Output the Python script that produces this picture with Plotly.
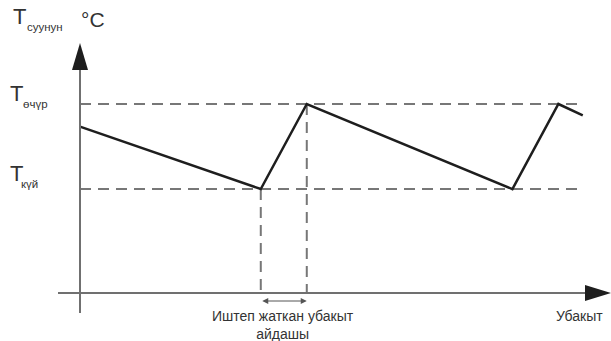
import plotly.graph_objects as go

# Water temperature over time (schematic): cool down, heater on, heat up, heater off
time = [0, 39.3, 49.3, 94.0, 104.0, 109.3]
temp = [88, 55, 100, 55, 100, 94]
t_on = 55      # T күй
t_off = 100    # T өчүр
t_end = 109.3  # end of dashed guides

W, H = 611, 341
X0, Y0 = 80, 293          # pixel position of the origin
XS, YS = 4.6, 1.89        # pixels per unit
xr = [-X0 / XS, (W - X0) / XS]
yr = [(Y0 - H) / YS, Y0 / YS]

AX = "#707070"
DASH = "#777777"
INK = "#1e1e1e"
TXT = "#333333"
FONT = "Liberation Sans, Arial, sans-serif"

fig = go.Figure()

# dashed guides
for lvl in (t_on, t_off):
    fig.add_trace(go.Scatter(x=[0, t_end], y=[lvl, lvl], mode="lines",
                             line=dict(color=DASH, width=2, dash="11px,7px"),
                             hoverinfo="skip", showlegend=False))
for i, lvl in ((1, t_on), (2, t_off)):
    fig.add_trace(go.Scatter(x=[time[i], time[i]], y=[lvl, 0], mode="lines",
                             line=dict(color=DASH, width=2, dash="11px,7px"),
                             hoverinfo="skip", showlegend=False))

# temperature curve
fig.add_trace(go.Scatter(x=time, y=temp, mode="lines",
                         line=dict(color=INK, width=2.5),
                         hovertemplate="%{x}<br>%{y} °C<extra></extra>",
                         showlegend=False))

# axes with arrow heads
shapes = [
    dict(type="line", x0=0, x1=0, y0=-20 / YS, y1=(Y0 - 70) / YS,
         line=dict(color=AX, width=2)),
    dict(type="line", x0=-22 / XS, x1=(585 - X0) / XS, y0=0, y1=0,
         line=dict(color=AX, width=2)),
    dict(type="path", fillcolor=INK, line=dict(width=0),
         path=f"M {-8 / XS} {(Y0 - 70) / YS} L {8 / XS} {(Y0 - 70) / YS} "
              f"L 0 {(Y0 - 43) / YS} Z"),
    dict(type="path", fillcolor=INK, line=dict(width=0),
         path=f"M {(585 - X0) / XS} {8 / YS} L {(585 - X0) / XS} {-8 / YS} "
              f"L {(W - X0) / XS} 0 Z"),
]

ann = [
    # heating interval double arrow
    dict(x=time[2], y=-8 / YS, ax=time[1], ay=-8 / YS, xref="x", yref="y",
         axref="x", ayref="y", text="", showarrow=True, arrowhead=2,
         arrowside="end+start", arrowsize=1.2, arrowwidth=1, arrowcolor="#555"),
]


def label(text, px, py, size):
    ann.append(dict(text=text, x=px / W, y=1 - py / H, xref="paper", yref="paper",
                    xanchor="center", yanchor="middle", showarrow=False,
                    font=dict(size=size, color=TXT, family=FONT)))


label("T", 19.5, 17, 22)
label("суунун", 45, 27, 11.5)
label("°C", 93, 20, 21)
label("T", 16, 93, 22)
label("өчүр", 35, 104, 11.5)
label("T", 16, 173, 22)
label("күй", 29, 184, 11.5)
label("Иштеп жаткан убакыт<br>айдашы", 283, 325, 14)
label("Убакыт", 579, 316, 14)

fig.update_layout(
    width=W, height=H, margin=dict(l=0, r=0, t=0, b=0),
    paper_bgcolor="white", plot_bgcolor="white",
    xaxis=dict(range=xr, visible=False, fixedrange=True),
    yaxis=dict(range=yr, visible=False, fixedrange=True),
    shapes=shapes, annotations=ann,
    font=dict(family=FONT),
)

# page has a default 8px body margin; remove it so the figure fills the window
fig.write_html("out.html", config={"displayModeBar": False},
               post_script="document.body.style.margin='0';"
                           "document.body.style.overflow='hidden';")
